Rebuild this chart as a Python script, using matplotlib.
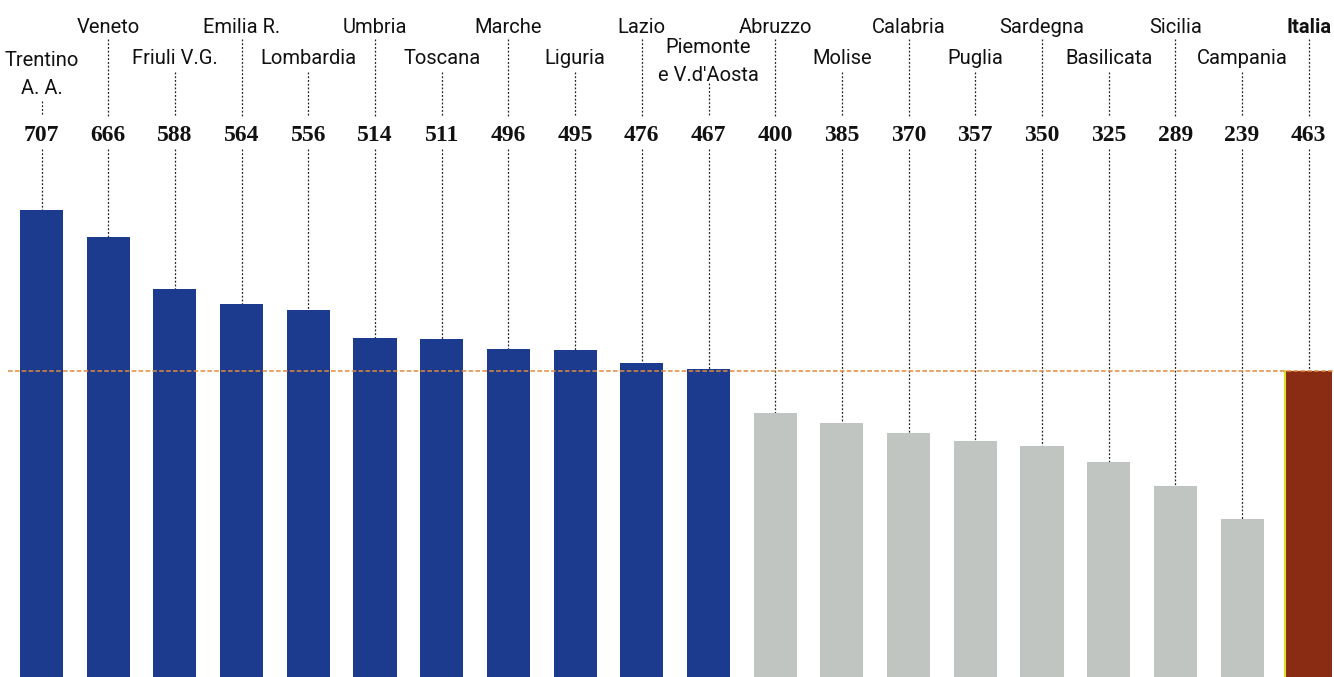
import matplotlib
matplotlib.use("Agg")
import matplotlib.pyplot as plt
import matplotlib.transforms as mtransforms

# dati
regioni = ["Trentino\nA. A.", "Veneto", "Friuli V.G.", "Emilia R.", "Lombardia", "Umbria",
           "Toscana", "Marche", "Liguria", "Lazio", "Piemonte\ne V.d'Aosta", "Abruzzo",
           "Molise", "Calabria", "Puglia", "Sardegna", "Basilicata", "Sicilia", "Campania",
           "Italia"]
valori = [707, 666, 588, 564, 556, 514, 511, 496, 495, 476, 467, 400,
          385, 370, 357, 350, 325, 289, 239, 463]
media_italia = 463

W, H = 1334, 677
BLU = "#1d3b8e"
GRIGIO = "#c0c5c1"
ROSSO = "#8a2b14"
ARANCIO = "#e08a3c"

fig = plt.figure(figsize=(W / 100, H / 100), dpi=100)
ax = fig.add_axes([0, 0, 1, 1])
step = 66.7
x0 = 41.5
ax.set_xlim(-x0 / step, (W - x0) / step)
px_per_unit = 0.6605
ax.set_ylim(0, H / px_per_unit)
ax.axis("off")

# y in pixel dall'alto -> coordinate assi
trans = mtransforms.blended_transform_factory(ax.transData, ax.transAxes)


def fy(py):
    return 1 - py / H


n = len(valori)
xs = list(range(n))
colori = []
for i, v in enumerate(valori):
    if regioni[i] == "Italia":
        colori.append(ROSSO)
    elif v >= media_italia:
        colori.append(BLU)
    else:
        colori.append(GRIGIO)
larg = [0.645] * (n - 1) + [0.70]

ax.bar(xs, valori, width=larg, color=colori, zorder=2)
# bordino giallo a sinistra della barra Italia
ax.plot([n - 1 - larg[-1] / 2] * 2, [0, valori[-1]], color="#d8e02a", lw=1.5, zorder=3)

# linea media
ax.plot([8 / step - x0 / step, n], [media_italia, media_italia], color=ARANCIO,
        lw=1.1, ls=(0, (3, 1.5)), zorder=4)

for i, (nome, v) in enumerate(zip(regioni, valori)):
    alto = (i % 2 == 1)
    bold = nome == "Italia"
    if alto:
        base = 33
        fine_testo = 39
    elif "\n" in nome:
        base = 66 if nome.startswith("Trentino") else 53
        fine_testo = 101 if nome.startswith("Trentino") else 83
    else:
        base = 64
        fine_testo = 72
    righe = nome.split("\n")
    for k, r in enumerate(righe):
        ax.text(i, fy(base + k * 28), r, transform=trans, ha="center", va="baseline",
                fontsize=14.5, family="Roboto", fontweight="bold" if bold else "normal",
                color="#111111", zorder=5)
    # numero
    ax.text(i, fy(141), str(v), transform=trans, ha="center", va="baseline",
            fontsize=17, family="Liberation Serif", fontweight="bold", color="#111111")
    # linee tratteggiate
    ax.plot([i, i], [fy(fine_testo), fy(116)], transform=trans, color="#222222",
            lw=0.9, ls=(0, (1.5, 1.5)), zorder=1)
    ax.plot([i, i], [fy(149), v * px_per_unit / H], transform=trans, color="#222222",
            lw=0.9, ls=(0, (1.5, 1.5)), zorder=1)

fig.savefig("out.png", dpi=100, facecolor="white")
